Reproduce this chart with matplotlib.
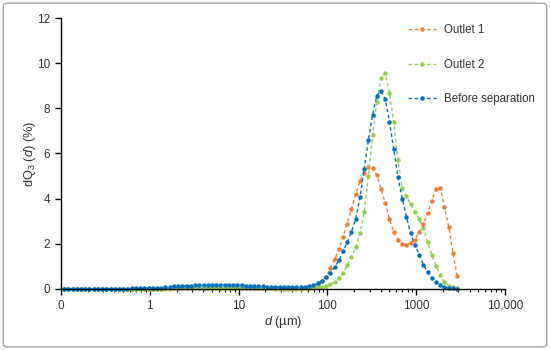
import matplotlib
matplotlib.use('Agg')
import matplotlib.pyplot as plt
import matplotlib.ticker as mticker
from matplotlib.patches import FancyBboxPatch

plt.rcParams['font.family'] = ['Liberation Sans', 'DejaVu Sans']
plt.rcParams['mathtext.fontset'] = 'custom'
plt.rcParams['mathtext.rm'] = 'Liberation Sans'
plt.rcParams['mathtext.it'] = 'Liberation Sans:italic'

# particle size classes (um)
d = [0.108, 0.121, 0.135, 0.150, 0.167, 0.187, 0.209, 0.233, 0.260, 0.290,
     0.323, 0.361, 0.403, 0.449, 0.501, 0.559, 0.624, 0.697, 0.777, 0.867,
     0.968, 1.08, 1.21, 1.35, 1.50, 1.67, 1.87, 2.09, 2.33, 2.60,
     2.90, 3.23, 3.61, 4.03, 4.49, 5.01, 5.59, 6.24, 6.97, 7.77, 8.67,
     9.68, 10.8, 12.1, 13.5, 15.0, 16.7, 18.7, 20.9, 23.3, 26.0,
     29.0, 32.3, 36.1, 40.3, 44.9, 50.1, 55.9, 62.4, 69.7, 77.7, 86.7,
     96.8, 108, 121, 135, 150, 167, 187, 209, 233, 260,
     290, 323, 361, 403, 449, 501, 559, 624, 697, 777, 867,
     968, 1080, 1205, 1345, 1501, 1675, 1869, 2086, 2327, 2597, 2898]

outlet1 = [0] * 20 + \
    [0, 0, 0, 0, 0.01, 0.01, 0.02, 0.02, 0.03, 0.03, 0.03, 0.04, 0.04, 0.04,
     0.04, 0.04, 0.04, 0.04, 0.03, 0.03, 0.03] + \
    [0.03, 0.02, 0.02, 0.02, 0.01, 0.01, 0.01, 0.01, 0.01, 0.01, 0.01, 0.01,
     0.01, 0.01, 0.01, 0.02, 0.04, 0.07, 0.12, 0.20, 0.32] + \
    [0.52, 0.90, 1.30, 1.75, 2.28, 2.88, 3.55, 4.20, 4.78, 5.15, 5.40, 5.35,
     5.05, 4.40, 3.80, 3.10, 2.50, 2.15, 1.98, 1.92, 2.03] + \
    [2.18, 2.50, 2.85, 3.35, 3.90, 4.43, 4.48, 3.62, 2.75, 1.60, 0.58]

outlet2 = [0] * 20 + \
    [0, 0, 0, 0, 0, 0, 0.01, 0.01, 0.02, 0.02, 0.02, 0.03, 0.03, 0.03,
     0.03, 0.03, 0.03, 0.03, 0.03, 0.03, 0.03] + \
    [0.03, 0.02, 0.02, 0.02, 0.01, 0.01, 0.01, 0.01, 0.01, 0, 0, 0,
     0, 0, 0, 0, 0.01, 0.02, 0.04, 0.06, 0.09] + \
    [0.12, 0.20, 0.30, 0.47, 0.70, 1.03, 1.40, 1.85, 2.45, 3.40, 5.00, 6.80,
     8.30, 9.35, 9.55, 8.70, 7.40, 5.70, 4.45, 4.10, 3.75] + \
    [3.42, 3.10, 2.70, 2.05, 1.50, 1.00, 0.60, 0.30, 0.13, 0.05, 0.01]

before = [0] * 16 + [0.01, 0.01, 0.01, 0.01] + \
    [0.02, 0.02, 0.03, 0.04, 0.06, 0.08, 0.10, 0.11, 0.12, 0.13, 0.13, 0.14,
     0.14, 0.15, 0.15, 0.16, 0.17, 0.17, 0.17, 0.17, 0.16] + \
    [0.15, 0.14, 0.13, 0.12, 0.11, 0.10, 0.10, 0.09, 0.09, 0.08, 0.08, 0.07,
     0.07, 0.07, 0.06, 0.06, 0.07, 0.10, 0.15, 0.23, 0.35] + \
    [0.50, 0.68, 0.97, 1.25, 1.65, 2.05, 2.53, 3.10, 4.05, 5.30, 6.60, 7.70,
     8.57, 8.77, 8.40, 7.40, 6.20, 4.95, 4.00, 3.20, 2.45] + \
    [1.95, 1.50, 1.07, 0.73, 0.48, 0.28, 0.14, 0.06, 0.02, 0.01, 0.00]

series_names = ['Outlet 1', 'Outlet 2', 'Before separation']
colors = ['#ED7D31', '#92D050', '#0070C0']

x_ticks = [0.1, 1, 10, 100, 1000, 10000]
x_tick_labels = ['0', '1', '10', '100', '1000', '10,000']
y_ticks = [0, 2, 4, 6, 8, 10, 12]

fig = plt.figure(figsize=(5.5, 3.5), dpi=100)
ax = fig.add_axes([0.111, 0.1754, 0.807, 0.7723])

for y, name, c in zip([outlet1, outlet2, before], series_names, colors):
    ax.plot(d, y, color=c, linewidth=1.0, dashes=(2.5, 2), marker='o',
            markersize=3.2, markeredgewidth=0, label=name, clip_on=False)

ax.set_xscale('log')
ax.set_xlim(0.1, 10000)
ax.set_ylim(0, 12)
ax.set_xticks(x_ticks)
ax.set_xticklabels(x_tick_labels)
ax.xaxis.set_minor_locator(mticker.LogLocator(base=10, subs=range(2, 10)))
ax.xaxis.set_minor_formatter(mticker.NullFormatter())
ax.set_yticks(y_ticks)

for side in ['top', 'right']:
    ax.spines[side].set_visible(False)
for side in ['left', 'bottom']:
    ax.spines[side].set_color('black')
    ax.spines[side].set_linewidth(1.0)

ax.tick_params(axis='both', which='major', direction='out', length=4,
               width=1.0, color='black', labelsize=8.5, labelcolor='#333333')
ax.tick_params(axis='x', which='minor', direction='out', length=2.5,
               width=0.8, color='black')
ax.tick_params(axis='x', pad=4)
ax.tick_params(axis='y', pad=4)

ax.set_xlabel(r'$d$ (µm)', fontsize=9.2, color='#333333', labelpad=1.5)
ax.set_ylabel(r'dQ$_3$ ($d$) (%)', fontsize=9.2, color='#333333', labelpad=-1)

fig.legend(loc='upper left', bbox_to_anchor=(0.742, 0.931), frameon=False,
           fontsize=8.3, labelspacing=1.95, handlelength=2.4,
           handletextpad=0.7, borderaxespad=0, borderpad=0,
           labelcolor='#333333')

fig.patches.append(FancyBboxPatch((0.006, 0.009), 0.988, 0.982,
                                  boxstyle='round,pad=0,rounding_size=0.008',
                                  transform=fig.transFigure, fill=False,
                                  edgecolor='#A6A6A6', linewidth=1.0))

fig.savefig('out.png', dpi=100)
